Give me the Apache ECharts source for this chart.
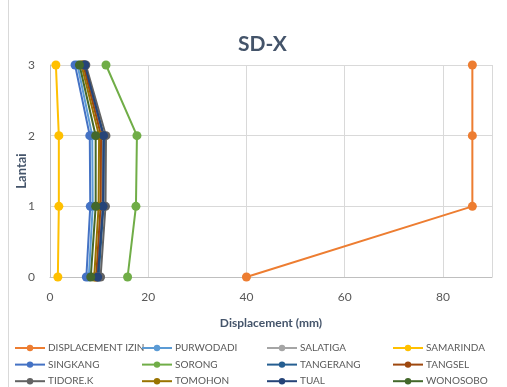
<!DOCTYPE html>
<html>
<head>
<meta charset="utf-8">
<script src="https://cdn.jsdelivr.net/npm/echarts@6/dist/echarts.min.js"></script>
<style>html,body{margin:0;padding:0;background:#fff}#c{width:507px;height:387px}</style>
</head>
<body>
<div id="c"></div>
<script>
const floors = [0, 1, 2, 3];
const xTicks = [0, 20, 40, 60, 80];
const seriesNames = ['DISPLACEMENT IZIN','PURWODADI','SALATIGA','SAMARINDA','SINGKANG','SORONG','TANGERANG','TANGSEL','TIDORE.K','TOMOHON','TUAL','WONOSOBO'];
const displacementIzin = [40, 86, 86, 86];
const purwodadi = [7.9, 8.7, 8.6, 5.6];
const salatiga  = [9.6, 10.6, 10.7, 6.6];
const samarinda = [1.6, 1.8, 1.8, 1.2];
const singkang  = [7.4, 8.2, 8.1, 5.1];
const sorong    = [15.8, 17.5, 17.7, 11.4];
const tangerang = [9.9, 10.9, 11.0, 7.0];
const tangsel   = [9.4, 10.3, 10.4, 6.8];
const tidoreK   = [10.3, 11.3, 11.4, 7.3];
const tomohon   = [9.0, 9.9, 10.0, 6.4];
const tual      = [9.7, 10.8, 10.9, 7.1];
const wonosobo  = [8.3, 9.3, 9.3, 6.0];
const allValues = [displacementIzin, purwodadi, salatiga, samarinda, singkang, sorong, tangerang, tangsel, tidoreK, tomohon, tual, wonosobo];
const colors = ['#ED7D31','#5B9BD5','#A5A5A5','#FFC000','#4472C4','#70AD47','#255E91','#9E480E','#636363','#997300','#264478','#43682B'];

const font = 'Lato, "Open Sans", sans-serif';
const series = seriesNames.map((n, i) => ({
  name: n, type: 'line',
  data: allValues[i].map((v, k) => [v, floors[k]]),
  symbol: 'circle', symbolSize: 9,
  lineStyle: {width: 2, color: colors[i]},
  itemStyle: {color: colors[i]},
  emphasis: {disabled: true},
  animation: false
}));

const cols = [[0,4,8],[1,5,9],[2,6,10],[3,7,11]];
const colLeft = [14, 141, 266, 392];
const legends = cols.map((c, j) => ({
  orient: 'vertical', left: colLeft[j], top: 343, height: 80, padding: 0,
  itemWidth: 30, itemHeight: 8, itemGap: 6.6,
  data: c.map(i => seriesNames[i]),
  textStyle: {fontFamily: font, fontSize: 10, color: '#595959', padding: [0,0,0,-2]},
  selectedMode: false
}));

const chart = echarts.init(document.getElementById('c'), null, {renderer: 'canvas'});
chart.setOption({
  backgroundColor: '#fff',
  color: colors,
  title: {text: 'SD-X', left: 233, top: 29,
    textStyle: {fontFamily: font, fontSize: 21, fontWeight: 'bold', color: '#44546A'}},
  grid: {left: 50, right: 15, top: 65, bottom: 110, containLabel: false, outerBoundsMode: 'none'},
  xAxis: {
    type: 'value', min: 0, max: 90, interval: 20,
    name: 'Displacement (mm)', nameLocation: 'middle', nameGap: 40, nameMoveOverlap: false,
    nameTextStyle: {fontFamily: font, fontSize: 12, fontWeight: 'bold', color: '#44546A'},
    axisLine: {show: true, lineStyle: {color: '#BFBFBF', width: 1}},
    axisTick: {show: false},
    axisLabel: {fontFamily: font, fontSize: 12, color: '#595959', margin: 14, showMaxLabel: false,
      formatter: v => xTicks.includes(v) ? String(v) : ''},
    splitLine: {show: true, lineStyle: {color: '#D9D9D9', width: 1}}
  },
  yAxis: {
    type: 'value', min: 0, max: 3, interval: 1,
    name: 'Lantai', nameLocation: 'middle', nameGap: 22, nameRotate: 90, nameMoveOverlap: false,
    nameTextStyle: {fontFamily: font, fontSize: 13, fontWeight: 'bold', color: '#44546A'},
    axisLine: {show: true, lineStyle: {color: '#BFBFBF', width: 1}},
    axisTick: {show: false},
    axisLabel: {fontFamily: font, fontSize: 12, color: '#595959', margin: 15},
    splitLine: {show: true, lineStyle: {color: '#D9D9D9', width: 1}}
  },
  legend: legends,
  graphic: [{type: 'line', shape: {x1: 8.5, y1: 0, x2: 8.5, y2: 387}, style: {stroke: '#D9D9D9', lineWidth: 1}, silent: true}],
  series: series,
  animation: false
});
</script>
</body>
</html>
